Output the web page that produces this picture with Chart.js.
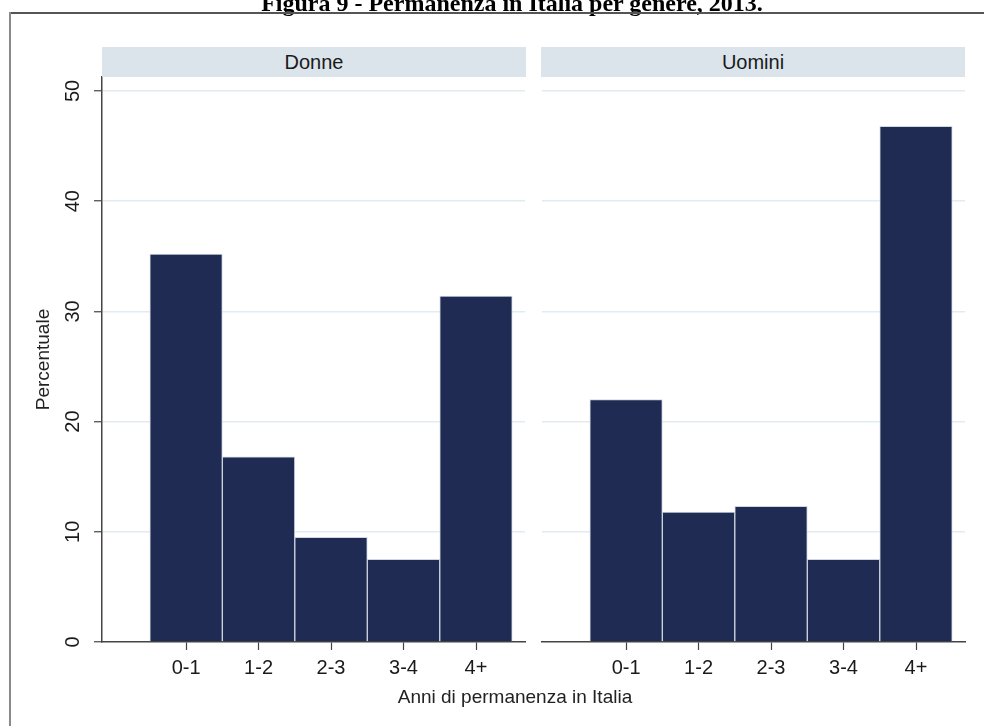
<!DOCTYPE html>
<html><head><meta charset="utf-8">
<script src="https://cdn.jsdelivr.net/npm/chart.js@4.4.1/dist/chart.umd.min.js"></script>
<style>
html,body{margin:0;padding:0;background:#fff;width:984px;height:726px;overflow:hidden;}
body{position:relative;font-family:"Liberation Sans",Arial,sans-serif;}
#title{position:absolute;left:0;width:1024px;top:-9px;text-align:center;font:bold 24px/24px "Liberation Serif",serif;color:#000;white-space:nowrap;}
#frameTop{position:absolute;left:9px;top:12px;width:975px;height:2px;background:#555;}
#frameLeft{position:absolute;left:9px;top:12px;width:1.5px;height:714px;background:#8a8a8a;}
.strip{position:absolute;top:47px;height:30px;background:#dae4ea;color:#1a1a1a;font-size:20px;line-height:30px;text-align:center;}
.wrap{position:absolute;top:0;height:726px;}
#xtitle{position:absolute;top:686px;left:0;width:1030px;text-align:center;font-size:19px;line-height:22px;color:#222;}
</style></head>
<body>
<div class="wrap" style="left:0;width:533px;"><canvas id="c1" width="533" height="726"></canvas></div>
<div class="wrap" style="left:533px;width:451px;"><canvas id="c2" width="451" height="726"></canvas></div>
<div id="title">Figura 9 - Permanenza in Italia per genere, 2013.</div>
<div id="frameTop"></div><div id="frameLeft"></div>
<div class="strip" id="s1" style="left:102px;width:424px;"></div>
<div class="strip" id="s2" style="left:541px;width:424px;"></div>
<div id="xtitle"></div>
<script>
const panels = ['Donne', 'Uomini'];
const categories = ['0-1', '1-2', '2-3', '3-4', '4+'];
const donne = [35.2, 16.8, 9.5, 7.5, 31.4];
const uomini = [22.0, 11.8, 12.3, 7.5, 46.8];
const yTicks = [0, 10, 20, 30, 40, 50];
const yTitle = 'Percentuale';
const xTitle = 'Anni di permanenza in Italia';

document.getElementById('s1').textContent = panels[0];
document.getElementById('s2').textContent = panels[1];
document.getElementById('xtitle').textContent = xTitle;

Chart.defaults.font.family = '"Liberation Sans", Arial, sans-serif';
Chart.defaults.color = '#1a1a1a';

const BAR = '#1f2b52';
const AXIS = '#444';
const GRID = '#e2ebf0';

function makeChart(id, values, showY) {
  const ctx = document.getElementById(id);
  return new Chart(ctx, {
    type: 'bar',
    data: {
      datasets: [{
        data: values.map((v, i) => ({x: i + 1, y: v})),
        backgroundColor: BAR,
        borderColor: '#cfd7e2',
        borderWidth: 1,
        barPercentage: 1,
        categoryPercentage: 1
      }]
    },
    options: {
      responsive: false,
      animation: false,
      devicePixelRatio: 1,
      layout: {padding: {left: showY ? 30 : 9, top: 77, right: showY ? 8 : 19, bottom: 44}},
      plugins: {legend: {display: false}, tooltip: {enabled: false}, title: {display: false}},
      scales: {
        x: {
          type: 'linear',
          offset: false,
          min: -0.16,
          max: 5.676,
          afterBuildTicks: s => { s.ticks = categories.map((c, i) => ({value: i + 1})); },
          afterFit: s => { s.height = 40; },
          ticks: {
            autoSkip: false, maxRotation: 0, minRotation: 0, padding: 6,
            color: '#1a1a1a', font: {size: 20},
            callback: (v, i) => categories[i]
          },
          grid: {offset: false, drawOnChartArea: false, drawTicks: true, tickLength: 8, tickColor: AXIS, tickWidth: 1.2},
          border: {display: true, color: AXIS, width: 1.5}
        },
        y: {
          min: 0,
          max: 51.27,
          afterBuildTicks: s => { s.ticks = yTicks.map(v => ({value: v})); },
          afterFit: s => { s.width = showY ? 72 : 0; },
          ticks: {
            display: showY,
            minRotation: 90, maxRotation: 90, crossAlign: 'center', padding: 9,
            color: '#1a1a1a', font: {size: 20}
          },
          grid: {
            color: c => (c.tick && c.tick.value === 0) ? 'rgba(0,0,0,0)' : GRID,
            lineWidth: 1.5,
            drawTicks: showY, tickLength: 8, tickColor: AXIS, tickWidth: 1.2
          },
          border: {display: showY, color: AXIS, width: 1.5},
          title: {display: showY, text: yTitle, color: '#222', font: {size: 19}, padding: {top: 2, bottom: 0}}
        }
      }
    }
  });
}
makeChart('c1', donne, true);
makeChart('c2', uomini, false);
</script>
</body></html>
